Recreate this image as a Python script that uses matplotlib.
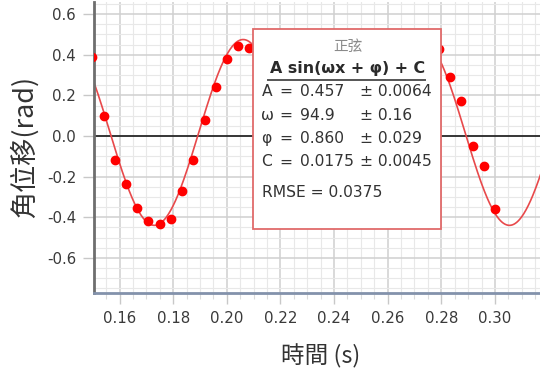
import matplotlib
matplotlib.use("Agg")
import matplotlib.pyplot as plt
from matplotlib.patches import Rectangle
from matplotlib.lines import Line2D
from matplotlib.ticker import MultipleLocator, FormatStrFormatter
import numpy as np

plt.rcParams['axes.unicode_minus'] = False
cjk = ['Noto Sans CJK TC', 'DejaVu Sans']

# measured angular displacement (rad) vs time (s)
t_data = [0.1496, 0.1542, 0.1583, 0.1625, 0.1667, 0.1708, 0.1750, 0.1792,
          0.1833, 0.1875, 0.1917, 0.1958, 0.2000, 0.2042, 0.2083,
          0.2790, 0.2833, 0.2875, 0.2917, 0.2958, 0.3000]
theta_data = [0.39, 0.097, -0.118, -0.236, -0.352, -0.416, -0.434, -0.408,
              -0.272, -0.118, 0.079, 0.239, 0.378, 0.444, 0.432,
              0.426, 0.289, 0.172, -0.051, -0.146, -0.359]

# sine fit: A sin(wx + phi) + C
param_names = ['A', 'ω', 'φ', 'C']
param_vals = [0.457, 94.9, 0.860, 0.0175]
param_text = ['0.457', '94.9', '0.860', '0.0175']
param_errs = ['0.0064', '0.16', '0.029', '0.0045']
rmse = '0.0375'

W, H = 540, 374
fig = plt.figure(figsize=(W / 100, H / 100), dpi=100)
fig.patch.set_facecolor('white')


def fx(px):
    return px / W


def fy(py):
    return 1 - py / H


ax = fig.add_axes([fx(94.3), fy(293.3), fx(548) - fx(94.3), fy(2) - fy(293.3)])
ax.set_xlim(0.1506, 0.3198)
ax.set_ylim(-0.7737, 0.6591)

ax.xaxis.set_major_locator(MultipleLocator(0.02))
ax.xaxis.set_minor_locator(MultipleLocator(0.005))
ax.yaxis.set_major_locator(MultipleLocator(0.2))
ax.yaxis.set_minor_locator(MultipleLocator(0.05))
ax.xaxis.set_major_formatter(FormatStrFormatter('%.2f'))
ax.yaxis.set_major_formatter(FormatStrFormatter('%.1f'))

ax.grid(which='major', color='#d0d0d0', lw=1.1, zorder=0)
ax.grid(which='minor', color='#e8e8e8', lw=0.8, zorder=0)
ax.set_axisbelow(True)

ax.tick_params(which='major', length=8, width=1, color='#c8c8c8',
               labelsize=10.8, labelcolor='#3a3a3a', pad=5)
ax.tick_params(which='minor', axis='x', length=4, width=0.8, color='#dcdcdc')
ax.tick_params(which='minor', axis='y', length=0)

for side in ['top', 'right']:
    ax.spines[side].set_visible(False)
ax.spines['left'].set_color('#6e6e6e')
ax.spines['left'].set_linewidth(2)
ax.spines['bottom'].set_color('#8392ab')
ax.spines['bottom'].set_linewidth(2)

ax.axhline(0, color='#1a1a1a', lw=1.2, zorder=1)

A, w, phi, C = param_vals
tt = np.linspace(0.1506, 0.3198, 600)
ax.plot(tt, A * np.sin(w * tt + phi) + C, color='#e8494b', lw=1.2, zorder=2)
ax.plot(t_data, theta_data, 'o', color='#ff0000', ms=6, mec='#ff0000', zorder=3)

# fit result box
fig.add_artist(Rectangle((fx(253.3), fy(229.3)), fx(440.7) - fx(253.3),
                         fy(29.3) - fy(229.3), transform=fig.transFigure,
                         facecolor='white', edgecolor='#e06a6a', lw=1.3, zorder=5))
fig.text(fx(347.5), fy(46.5), '正弦', family=cjk, fontsize=10.5, color='#8a8a8a',
         ha='center', va='center', zorder=6)
fig.text(fx(347.5), fy(68.5), 'A sin(ωx + φ) + C', fontsize=11.4, fontweight='bold',
         color='#2a2a2a', ha='center', va='center', zorder=6)
fig.add_artist(Line2D([fx(268), fx(425)], [fy(79.5), fy(79.5)], transform=fig.transFigure,
                      color='#555555', lw=1.4, zorder=6))

row_y = [91.7, 115.0, 138.3, 162.0]
for i, name in enumerate(param_names):
    y = fy(row_y[i])
    kw = dict(fontsize=11.2, color='#333333', va='center', zorder=6)
    fig.text(fx(261.5), y, name, ha='left', **kw)
    fig.text(fx(279), y, '=', ha='left', **kw)
    fig.text(fx(300), y, param_text[i], ha='left', **kw)
    fig.text(fx(360), y, '± ' + param_errs[i], ha='left', **kw)
fig.text(fx(261.5), fy(192.5), 'RMSE = ' + rmse, fontsize=11.2, color='#333333',
         ha='left', va='center', zorder=6)

fig.text(fx(25), fy(146.7), '角位移(rad)', family=cjk, fontsize=19.5, color='#333333',
         rotation=90, ha='center', va='center')
fig.text(fx(321), fy(356), '時間 (s)', family=cjk, fontsize=17, color='#333333',
         ha='center', va='center')

fig.savefig('out.png', dpi=100)
